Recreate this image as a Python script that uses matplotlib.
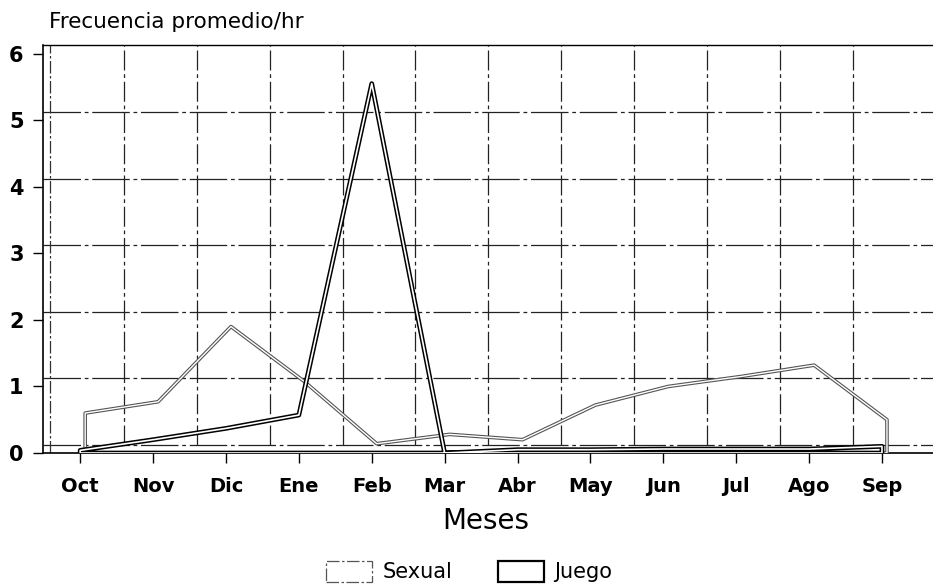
import numpy as np
import matplotlib
matplotlib.use("Agg")
import matplotlib.pyplot as plt
import matplotlib.patheffects as pe
import matplotlib.transforms as mtransforms
from matplotlib.patches import Patch

# Datos
meses = ["Oct", "Nov", "Dic", "Ene", "Feb", "Mar", "Abr", "May", "Jun", "Jul", "Ago", "Sep"]
sexual = [0.60, 0.77, 1.90, 1.08, 0.14, 0.28, 0.20, 0.72, 1.00, 1.15, 1.32, 0.50]
juego = [0.04, 0.20, 0.37, 0.57, 5.55, 0.00, 0.05, 0.05, 0.06, 0.06, 0.06, 0.10]

plt.rcParams['font.family'] = ['DejaVu Sans']

fig = plt.figure(figsize=(9.33, 5.84), dpi=100)
ax = fig.add_axes([0.0461, 0.2243, 0.9539, 0.6986])

x = np.arange(len(meses))

# Pared del fondo (rejilla desplazada como en el gráfico 3D)
for yv in np.arange(0, 6) + 0.12:
    ax.axhline(yv, color="#222222", lw=0.9, ls=(0, (30, 3, 3, 3)), zorder=1)
for xv in np.arange(11) + 0.6:
    ax.plot([xv, xv], [0.12, 6.13], color="#222222", lw=0.9, ls=(0, (16, 3, 3, 3)), zorder=1)
ax.axvline(-0.41, color="#333333", lw=0.9, ls=(0, (10, 2, 2, 2)), zorder=1)

# Serie del fondo desplazada unos pixeles
desplaza = mtransforms.offset_copy(ax.transData, fig=fig, x=5, y=0, units="dots")

ax.fill_between(x, sexual, 0, facecolor="none", edgecolor="#333333", lw=0.9,
                transform=desplaza, zorder=3,
                path_effects=[pe.Stroke(linewidth=2.6, foreground="#555555"),
                              pe.Stroke(linewidth=1.0, foreground="white")])
ax.fill_between(x, juego, 0, facecolor="none", edgecolor="black", lw=1.3, zorder=4,
                path_effects=[pe.Stroke(linewidth=3.4, foreground="black"),
                              pe.Stroke(linewidth=1.2, foreground="white")])

ax.set_xlim(-0.51, 11.70)
ax.set_ylim(0, 6.13)
ax.set_xticks(x)
ax.set_xticklabels(meses, fontsize=14, fontweight="bold")
ax.set_yticks(range(7))
ax.set_yticklabels([str(v) for v in range(7)], fontsize=15, fontweight="bold")
ax.tick_params(axis="x", length=7, width=1, pad=10)
ax.tick_params(axis="y", length=7, width=1, pad=7)

ax.spines["right"].set_visible(False)
ax.spines["top"].set_linewidth(1.0)
ax.spines["left"].set_linewidth(1.2)
ax.spines["bottom"].set_linewidth(1.2)

fig.text(0.053, 0.962, "Frecuencia promedio/hr", fontsize=15.5, va="center", ha="left")
fig.text(0.521, 0.108, "Meses", fontsize=20, va="center", ha="center")

handles = [Patch(facecolor="white", edgecolor="#555555", lw=0.9, ls=(0, (10, 2, 2, 2))),
           Patch(facecolor="white", edgecolor="black", lw=1.6)]
fig.legend(handles, ["Sexual", "Juego"], loc="center", bbox_to_anchor=(0.503, 0.021),
           ncol=2, frameon=False, fontsize=15, handlelength=2.2, handleheight=1.15,
           columnspacing=2.2, handletextpad=0.5)

fig.savefig("out.png", dpi=100)
